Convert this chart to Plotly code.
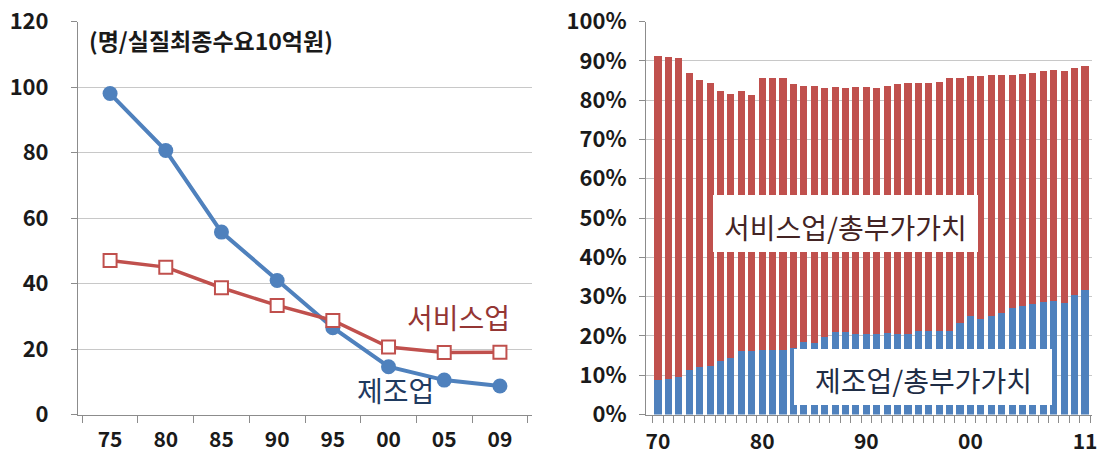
import plotly.graph_objects as go

# ---------------- data ----------------
line_years = ['75', '80', '85', '90', '95', '00', '05', '09']
mfg_emp = [98.0, 80.6, 55.7, 40.9, 26.5, 14.6, 10.5, 8.7]
svc_emp = [47.0, 45.0, 38.7, 33.3, 28.7, 20.6, 18.9, 19.0]
left_yticks = [0, 20, 40, 60, 80, 100, 120]

bar_years = [1970, 1971, 1972, 1973, 1974, 1975, 1976, 1977, 1978, 1979,
             1980, 1981, 1982, 1983, 1984, 1985, 1986, 1987, 1988, 1989,
             1990, 1991, 1992, 1993, 1994, 1995, 1996, 1997, 1998, 1999,
             2000, 2001, 2002, 2003, 2004, 2005, 2006, 2007, 2008, 2009,
             2010, 2011]
mfg_share = [8.7, 9.0, 9.6, 11.3, 12.0, 12.4, 13.5, 14.4, 16.2, 16.2,
             16.4, 16.5, 16.4, 16.8, 18.4, 18.2, 19.7, 20.9, 21.1, 20.5,
             20.5, 20.6, 20.7, 20.4, 20.6, 21.3, 21.3, 21.3, 21.2, 23.3,
             25.1, 24.4, 25.1, 25.9, 27.0, 27.6, 28.1, 28.7, 29.0, 28.4,
             30.4, 31.7]
svc_share = [82.6, 82.0, 81.1, 75.7, 73.1, 71.9, 68.7, 67.2, 66.2, 65.0,
             69.3, 69.2, 69.1, 67.2, 65.3, 65.5, 63.4, 62.5, 62.0, 62.9,
             62.9, 62.5, 63.0, 63.6, 63.7, 63.0, 63.0, 63.3, 64.3, 62.4,
             61.0, 61.7, 61.3, 60.5, 59.4, 59.1, 58.9, 58.6, 58.6, 58.9,
             57.8, 57.1]
bar_tickvals = [1970, 1980, 1990, 2000, 2011]
bar_ticktext = ['70', '80', '90', '00', '11']
right_yticks = [0, 10, 20, 30, 40, 50, 60, 70, 80, 90, 100]

unit_label = '(명/실질최종수요10억원)'
svc_label = '서비스업'
mfg_label = '제조업'
svc_box_label = '서비스업/총부가가치'
mfg_box_label = '제조업/총부가가치'

# ---------------- style ----------------
BLUE = '#4F81BD'
RED = '#C0504D'
GRID = '#C8C8C8'
AXIS = '#8C8C8C'
TXT = '#1A1A1A'
FONT = 'Noto Sans CJK KR'
W, H = 1102, 458


def px(x):
    return x / W


def py(y):
    return (H - y) / H


fig = go.Figure()

fig.add_trace(go.Scatter(
    x=line_years, y=mfg_emp, mode='lines+markers', xaxis='x', yaxis='y',
    line=dict(color=BLUE, width=4),
    marker=dict(symbol='circle', size=15, color=BLUE),
    showlegend=False))
fig.add_trace(go.Scatter(
    x=line_years, y=svc_emp, mode='lines+markers', xaxis='x', yaxis='y',
    line=dict(color=RED, width=3.5),
    marker=dict(symbol='square', size=13, color='white',
                line=dict(color=RED, width=2)),
    showlegend=False))

fig.add_trace(go.Bar(
    x=bar_years, y=[v / 100 for v in mfg_share], xaxis='x2', yaxis='y2',
    marker=dict(color=BLUE, line=dict(width=0)), showlegend=False))
fig.add_trace(go.Bar(
    x=bar_years, y=[v / 100 for v in svc_share], xaxis='x2', yaxis='y2',
    marker=dict(color=RED, line=dict(width=0)), showlegend=False))

tickfont = dict(family=FONT, size=22, color=TXT, weight='bold')
xtickfont = dict(family=FONT, size=21, color=TXT, weight='bold')
ydom = [py(414.5), py(21.5)]

fig.update_layout(
    width=W, height=H,
    margin=dict(l=0, r=0, t=0, b=0, autoexpand=False),
    paper_bgcolor='white', plot_bgcolor='white',
    barmode='stack', bargap=0.32,
    font=dict(family=FONT),
    xaxis=dict(
        domain=[px(78), px(532)], type='category', automargin=False,
        categoryorder='array', categoryarray=line_years,
        tickmode='array', tickvals=line_years, ticktext=line_years,
        tickson='boundaries', ticks='outside', ticklen=7, tickcolor=AXIS,
        showline=True, linecolor=AXIS, linewidth=1, showgrid=False,
        tickfont=xtickfont, ticklabelstandoff=6, anchor='y'),
    yaxis=dict(
        domain=ydom, range=[0, 120], tickvals=left_yticks, automargin=False,
        ticks='outside', ticklen=6, tickcolor=AXIS,
        showline=True, linecolor=AXIS, linewidth=1,
        showgrid=True, gridcolor=GRID, gridwidth=1, zeroline=False,
        tickfont=tickfont, ticklabelstandoff=18, anchor='x'),
    xaxis2=dict(
        domain=[px(646), px(1092)], range=[1968.85, 2011.67],
        automargin=False,
        tickmode='array', tickvals=bar_tickvals, ticktext=bar_ticktext,
        ticks='', showline=True, linecolor=AXIS, linewidth=1,
        showgrid=False, zeroline=False,
        minor=dict(ticks='outside', ticklen=7, tickcolor=AXIS,
                   tick0=1969.5, dtick=1, showgrid=False),
        tickfont=xtickfont, ticklabelstandoff=8, anchor='y2'),
    yaxis2=dict(
        domain=ydom, range=[0, 1], automargin=False,
        tickvals=[v / 100 for v in right_yticks],
        ticktext=[f'{v}%' for v in right_yticks],
        ticks='outside', ticklen=6, tickcolor=AXIS,
        showline=True, linecolor=AXIS, linewidth=1,
        showgrid=True, gridcolor=GRID, gridwidth=1, zeroline=False,
        tickfont=tickfont, ticklabelstandoff=8, anchor='x2'),
)

# white boxes on the bar chart
fig.add_shape(type='rect', xref='paper', yref='paper', layer='above',
              x0=px(713), x1=px(978), y0=py(252), y1=py(195),
              fillcolor='white', line=dict(width=0))
fig.add_shape(type='rect', xref='paper', yref='paper', layer='above',
              x0=px(794), x1=px(1052), y0=py(405), y1=py(349),
              fillcolor='white', line=dict(width=0))

fig.add_annotation(text=unit_label, xref='paper', yref='paper',
                   x=px(87), y=py(40), xanchor='left', yanchor='middle',
                   showarrow=False,
                   font=dict(family=FONT, size=23, color=TXT, weight='bold'))
fig.add_annotation(text=svc_label, xref='paper', yref='paper',
                   x=px(458), y=py(317), xanchor='center', yanchor='middle',
                   showarrow=False,
                   font=dict(family=FONT, size=28, color='#943634'))
fig.add_annotation(text=mfg_label, xref='paper', yref='paper',
                   x=px(395), y=py(390), xanchor='center', yanchor='middle',
                   showarrow=False,
                   font=dict(family=FONT, size=28, color='#1F3A5F'))
fig.add_annotation(text=svc_box_label, xref='paper', yref='paper',
                   x=px(845), y=py(227), xanchor='center', yanchor='middle',
                   showarrow=False,
                   font=dict(family=FONT, size=28, color='#432424'))
fig.add_annotation(text=mfg_box_label, xref='paper', yref='paper',
                   x=px(923), y=py(380), xanchor='center', yanchor='middle',
                   showarrow=False,
                   font=dict(family=FONT, size=28, color='#1F2D45'))

fig.write_html('out.html')
